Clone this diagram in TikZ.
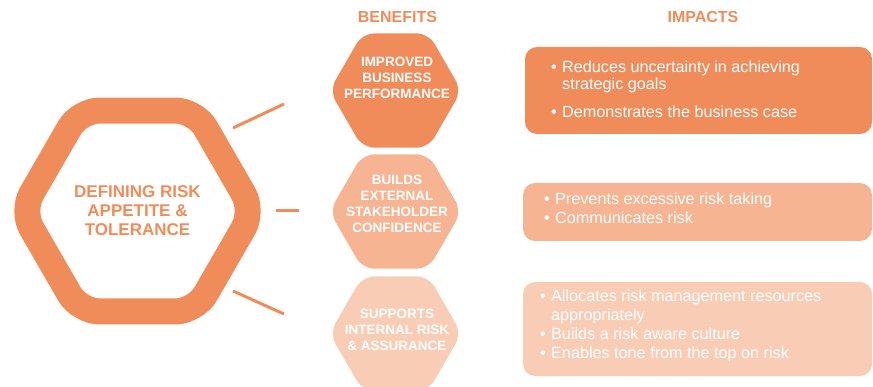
\documentclass[tikz,border=0pt]{standalone}
\usepackage{fontspec}
\setmainfont{Liberation Sans}
\usetikzlibrary{shapes.geometric}
\definecolor{riskorange}{HTML}{F08C5A}
\definecolor{riskpeach}{HTML}{F6B492}
\definecolor{risksand}{HTML}{F9CCB5}
\newcommand{\bul}{\makebox[11pt][l]{\textbullet}}
\newcommand{\hang}{\hspace*{11pt}}

\begin{document}
\begin{tikzpicture}[x=1pt, y=-1pt,
  hexbox/.style={regular polygon, regular polygon sides=6, minimum size=132pt, inner sep=0pt, rounded corners=12pt},
  bentext/.style={anchor=north, inner sep=0pt, align=center, text=white, font=\fontsize{13.5}{16}\selectfont\bfseries},
  head/.style={anchor=base, inner sep=0pt, text=riskorange, font=\fontsize{16}{19}\selectfont\bfseries},
  imptext/.style={anchor=north west, inner sep=0pt, align=left, text=white, font=\fontsize{16.2}{19}\selectfont},
  link/.style={draw=riskorange, line width=3pt}]
\useasboundingbox (0,0) rectangle (873,387);
\clip (0,0) rectangle (873,387);

% headings
\node[head] (benefits) at (397.5,23) {BENEFITS};
\node[head] (impacts) at (703,23) {IMPACTS};

% central hexagon
\node[regular polygon, regular polygon sides=6, minimum size=232pt, inner sep=0pt,
  draw=riskorange, line width=26pt, rounded corners=20pt, align=center, text=riskorange,
  font=\fontsize{17}{19}\selectfont\bfseries] (risk) at (137.5,211)
  {DEFINING RISK\\APPETITE \&\\TOLERANCE};

% benefits
\node[hexbox, fill=riskorange] (perf) at (395.5,90.5) {};
\node[hexbox, fill=riskpeach] (conf) at (395.5,211.5) {};
\node[hexbox, fill=risksand] (assur) at (395.5,333.5) {};
\node[bentext] (perftext) at (397,57) {IMPROVED\\BUSINESS\\PERFORMANCE};
\node[bentext] (conftext) at (397,175) {BUILDS\\EXTERNAL\\STAKEHOLDER\\CONFIDENCE};
\node[bentext] (assurtext) at (397,309) {SUPPORTS\\INTERNAL RISK\\\& ASSURANCE};

% links
\coordinate (l1a) at (233,128); \coordinate (l1b) at (284,104);
\coordinate (l2a) at (276,211); \coordinate (l2b) at (299,211);
\coordinate (l3a) at (233,291); \coordinate (l3b) at (284,314);
\draw[link] (l1a) -- (l1b);
\draw[link] (l2a) -- (l2b);
\draw[link] (l3a) -- (l3b);

% impacts
\fill[riskorange, rounded corners=12pt] (525,47) rectangle (872,134);
\fill[riskpeach, rounded corners=12pt] (523,183) rectangle (872,241);
\fill[risksand, rounded corners=12pt] (523,282) rectangle (872,376);
\node[imptext] (perfimp) at (551,60.2)
  {\bul Reduces uncertainty in achieving\\[-1.5pt]\hang strategic goals\\[8.5pt]\bul Demonstrates the business case};
\node[imptext] (confimp) at (544,192.2)
  {\bul Prevents excessive risk taking\\\bul Communicates risk};
\node[imptext] (assurimp) at (540,289.2)
  {\bul Allocates risk management resources\\\hang appropriately\\\bul Builds a risk aware culture\\\bul Enables tone from the top on risk};
\end{tikzpicture}
\end{document}
